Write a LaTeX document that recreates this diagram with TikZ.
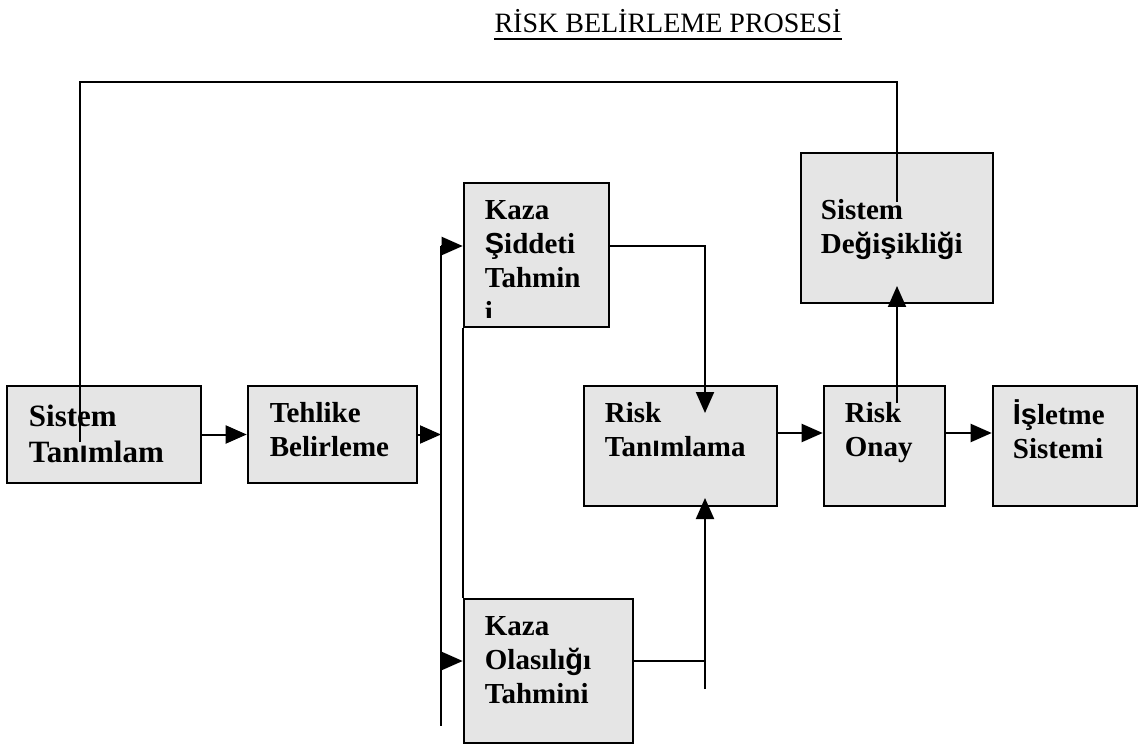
\documentclass[tikz,border=0pt]{standalone}
\usepackage{fontspec}
\setmainfont{Liberation Serif}
\newfontfamily\trsans{Liberation Sans}
\usetikzlibrary{arrows.meta,calc}
% letters that fall back to a sans face inside the boxes
\newcommand{\sg}[1]{{\trsans #1}}
\begin{document}
\begin{tikzpicture}[x=1pt,y=-1pt,
  box/.style={draw=black,line width=2.6pt,fill=black!10,rectangle,inner sep=0pt},
  label/.style={anchor=north west,inner sep=0pt,align=left,
    font=\bfseries\fontsize{29}{34}\selectfont},
  biglabel/.style={label,font=\bfseries\fontsize{31}{36}\selectfont},
  conn/.style={draw=black,line width=2pt},
  arr/.style={conn,-{Triangle[length=21pt,width=18pt]}}]
\useasboundingbox (0,0) rectangle (1144,746);

% title
\node[anchor=base,inner sep=0pt,font=\fontsize{28}{34}\selectfont] (title) at (668,33)
  {RİSK BELİRLEME PROSESİ};
\draw[line width=1.6pt] ([yshift=-6pt]title.base west) -- ([yshift=-6pt]title.base east);

% process boxes
\node[box,minimum width=194,minimum height=97]  (st) at (104,434.5) {};
\node[box,minimum width=169,minimum height=97]  (th) at (332.5,434.5) {};
\node[box,minimum width=145,minimum height=144] (ks) at (536.5,255) {};
\node[box,minimum width=169,minimum height=144] (ko) at (548.5,671) {};
\node[box,minimum width=193,minimum height=120] (rt) at (680.5,446) {};
\node[box,minimum width=121,minimum height=120] (ro) at (884.5,446) {};
\node[box,minimum width=144,minimum height=120] (is) at (1065,446) {};
\node[box,minimum width=192,minimum height=150] (sd) at (897,228) {};

% box texts
\node[biglabel] (stl) at ($(st.north west)+(23,16)$) {\strut Sistem\\Tan\sg{ı}mlam};
\node[label] (thl) at ($(th.north west)+(23,14)$) {\strut Tehlike\\Belirleme};
\begin{scope}
  \clip (ks.north west) rectangle ($(ks.south east)+(0,-11)$);
  \node[label] (ksl) at ($(ks.north west)+(22,14)$) {\strut Kaza\\\sg{Ş}iddeti\\Tahmin\\i};
\end{scope}
\node[label] (kol) at ($(ko.north west)+(22,14)$) {\strut Kaza\\Olasılı\sg{ğ}ı\\Tahmini};
\node[label] (rtl) at ($(rt.north west)+(22,14)$) {\strut Risk\\Tan\sg{ı}mlama};
\node[label] (rol) at ($(ro.north west)+(22,14)$) {\strut Risk\\Onay};
\node[label] (isl) at ($(is.north west)+(21,15)$) {\strut\sg{İş}letme\\Sistemi};
\node[label] (sdl) at ($(sd.north west)+(21,44)$) {\strut Sistem\\De\sg{ğ}i\sg{ş}ikli\sg{ğ}i};

% junction points of the connectors
\coordinate (bustop) at (441,246);
\coordinate (busko)  at (441,661);
\coordinate (busbot) at (441,726);
\coordinate (rtin)   at (705,413);
\coordinate (rtup)   at (705,498);
\coordinate (mergelow) at (705,689);
\coordinate (flowy)  at (0,433);
\coordinate (roup)   at (897,403);
\coordinate (sdin)   at (897,286);
\coordinate (sdout)  at (897,202);
\coordinate (stin)   at (80,442);
\coordinate (topy)   at (0,82);

% connectors
\draw[arr] (st) -- (th);
\draw[arr] (th.east) -- (th.east -| bustop);
\draw[conn] (bustop) -- (busbot);
\draw[arr] (bustop) -- (bustop -| ks.west);
\draw[arr] (busko) -- (busko -| ko.west);
\draw[conn] (ks.south west) -- (ko.north west);
\draw[arr] (bustop -| ks.east) -| (rtin);
\draw[conn] (busko -| ko.east) -- (busko -| mergelow);
\draw[arr] (mergelow) -- (rtup);
\draw[arr] (rt.east |- flowy) -- (ro.west |- flowy);
\draw[arr] (ro.east |- flowy) -- (is.west |- flowy);
\draw[arr] (roup) -- (sdin);
\draw[conn] (sdout) -- (sdout |- topy) -| (stin);
\end{tikzpicture}
\end{document}
